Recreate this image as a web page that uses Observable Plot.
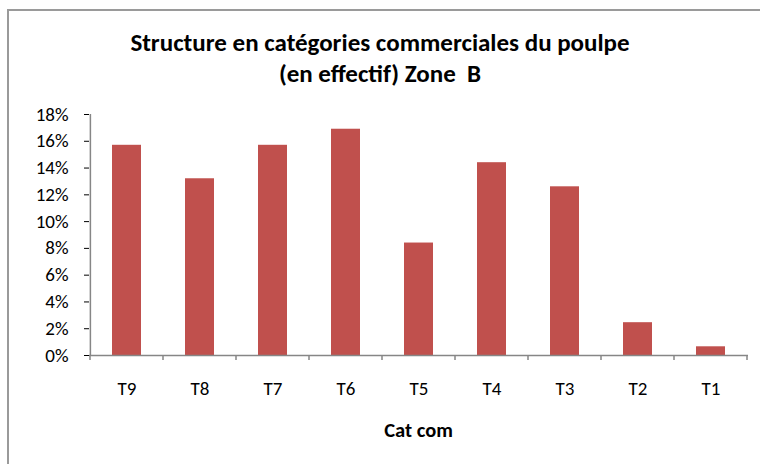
<!DOCTYPE html>
<html>
<head>
<meta charset="utf-8">
<script src="https://cdn.jsdelivr.net/npm/d3@7"></script>
<script src="https://cdn.jsdelivr.net/npm/@observablehq/plot@0.6"></script>
<style>
  html, body { margin: 0; padding: 0; background: #fff; }
  #wrap { position: relative; width: 760px; height: 464px; overflow: hidden; font-family: Carlito, Lato, "Open Sans", sans-serif; }
  #frame { position: absolute; left: 7px; top: 9px; width: 800px; height: 500px; border-left: 2px solid #9a9a9a; border-top: 2px solid #9a9a9a; }
  #title { position: absolute; left: 0; width: 760px; top: 27px; text-align: center; font-weight: bold; font-size: 25px; line-height: 31px; color: #000; }
  #xlabel { position: absolute; left: 89px; width: 659px; top: 417px; text-align: center; font-weight: bold; font-size: 20.5px; color: #000; }
  #chart { position: absolute; left: 0; top: 0; }
</style>
</head>
<body>
<div id="wrap">
  <div id="frame"></div>
  <div id="chart"></div>
  <div id="title">Structure en catégories commerciales du poulpe<br>(en effectif) Zone&nbsp; B</div>
  <div id="xlabel">Cat com</div>
</div>
<script>
const categories = ["T9", "T8", "T7", "T6", "T5", "T4", "T3", "T2", "T1"];
const shares = [15.7, 13.2, 15.7, 16.9, 8.4, 14.4, 12.6, 2.45, 0.65];
const yTicks = [0, 2, 4, 6, 8, 10, 12, 14, 16, 18];

const data = categories.map((c, i) => ({cat: c, value: shares[i]}));

const axisColor = "#868686";

// boundary ticks below the x axis, placed from the band scale
function boundaryTicks(index, scales, values, dimensions) {
  const x = scales.x, y = scales.y;
  const y0 = y(0);
  const xs = categories.map(c => x(c)).concat([x(categories[categories.length - 1]) + x.bandwidth()]);
  const g = d3.create("svg:g");
  g.selectAll("line").data(xs).join("line")
    .attr("x1", d => d).attr("x2", d => d)
    .attr("y1", y0).attr("y2", y0 + 5)
    .attr("stroke", axisColor).attr("stroke-width", 1.5);
  return g.node();
}

const chart = Plot.plot({
  width: 760,
  height: 464,
  marginLeft: 89,
  marginRight: 12,
  marginTop: 114,
  marginBottom: 109,
  style: { fontFamily: "Carlito, Lato, 'Open Sans', sans-serif", fontSize: "19px", color: "#000", background: "transparent" },
  x: { domain: categories, padding: 0, tickSize: 0, tickPadding: 26, label: null },
  y: { domain: [0, 18], ticks: yTicks, tickFormat: d => d + "%", tickSize: 5, tickPadding: 16, label: null },
  marks: [
    Plot.barY(data, { x: "cat", y: "value", fill: "#C0504D", insetLeft: 22, insetRight: 22 }),
    Plot.ruleY([0], { stroke: axisColor, strokeWidth: 1.5 }),
    Plot.ruleX([categories[0]], { y1: 0, y2: 18, stroke: axisColor, strokeWidth: 1.5, dx: -(760 - 89 - 12) / 18 }),
    boundaryTicks
  ]
});
d3.select(chart).selectAll("text").style("font-size", "19px").attr("font-size", "19px");
d3.select(chart).selectAll("g").attr("font-size", null);
document.getElementById("chart").appendChild(chart);
</script>
</body>
</html>
